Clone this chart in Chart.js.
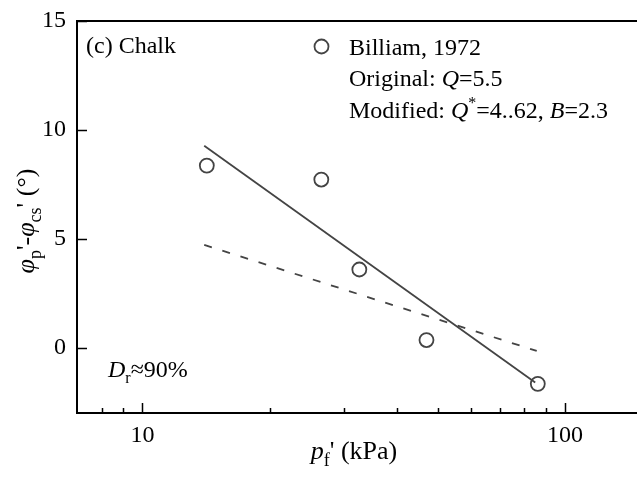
<!DOCTYPE html>
<html>
<head>
<meta charset="utf-8">
<script src="https://cdn.jsdelivr.net/npm/chart.js@4"></script>
<style>
  html, body { margin: 0; padding: 0; background: #fff; }
  canvas { display: block; }
</style>
</head>
<body>
<canvas id="chart" width="637" height="479"></canvas>
<script>
// measured data (Billiam, 1972 - chalk)
const pfValues = [14.2, 26.5, 32.6, 47.0, 86.2];
const dPhiValues = [8.36, 7.72, 3.59, 0.35, -1.66];

// fitted lines (end points)
const modifiedX = [14.0, 85.0];
const modifiedY = [9.27, -1.6];
const originalX = [14.0, 85.7];
const originalY = [4.72, -0.15];

const xTicks = [8, 9, 10, 20, 30, 40, 50, 60, 70, 80, 90, 100];
const xLabelled = [10, 100];
const yTicks = [0, 5, 10, 15];

const FONT = '"Liberation Serif", "Times New Roman", serif';
const GREY = '#444';
const SIZE = 24;
const TITLE_SIZE = 26;

function pts(xs, ys) {
    return xs.map((x, i) => ({ x: x, y: ys[i] }));
}

// draws a row of text pieces: {t, it, sub, sup}
function richText(ctx, x, y, parts, size) {
    let cx = x;
    parts.forEach(p => {
        const s = p.sub || p.sup ? Math.round(size * 0.68) : size;
        ctx.font = (p.it ? 'italic ' : '') + s + 'px ' + FONT;
        const dy = p.sub ? size * 0.25 : p.sup ? -size * 0.4 : 0;
        ctx.fillText(p.t, cx, y + dy);
        cx += ctx.measureText(p.t).width;
    });
    return cx - x;
}

function richWidth(ctx, parts, size) {
    let w = 0;
    parts.forEach(p => {
        const s = p.sub || p.sup ? Math.round(size * 0.68) : size;
        ctx.font = (p.it ? 'italic ' : '') + s + 'px ' + FONT;
        w += ctx.measureText(p.t).width;
    });
    return w;
}

const decorations = {
    id: 'decorations',
    afterDraw(chart) {
        const ctx = chart.ctx;
        const area = chart.chartArea;
        const xs = chart.scales.x, ys = chart.scales.y;
        ctx.save();

        // frame: left, bottom, top
        ctx.strokeStyle = '#000';
        ctx.lineWidth = 2;
        ctx.beginPath();
        ctx.moveTo(chart.width, area.top);
        ctx.lineTo(area.left, area.top);
        ctx.lineTo(area.left, area.bottom);
        ctx.lineTo(chart.width, area.bottom);
        ctx.stroke();

        // inward ticks
        ctx.lineWidth = 1.5;
        ctx.beginPath();
        xTicks.forEach(v => {
            const px = Math.round(xs.getPixelForValue(v)) + 0.5;
            const len = xLabelled.includes(v) ? 10 : 5;
            ctx.moveTo(px, area.bottom);
            ctx.lineTo(px, area.bottom - len);
        });
        yTicks.forEach(v => {
            const py = Math.round(ys.getPixelForValue(v)) + 0.5;
            ctx.moveTo(area.left, py);
            ctx.lineTo(area.left + 10, py);
        });
        ctx.stroke();

        ctx.fillStyle = '#000';
        ctx.textBaseline = 'alphabetic';
        ctx.textAlign = 'left';

        // panel label
        ctx.font = SIZE + 'px ' + FONT;
        ctx.fillText('(c) Chalk', 86, 53);

        // legend
        ctx.strokeStyle = GREY;
        ctx.lineWidth = 1.8;
        ctx.beginPath();
        ctx.arc(321.5, 46.5, 7, 0, Math.PI * 2);
        ctx.stroke();
        ctx.fillStyle = '#000';
        richText(ctx, 349, 55, [{ t: 'Billiam, 1972' }], SIZE);
        richText(ctx, 349, 86, [{ t: 'Original: ' }, { t: 'Q', it: true }, { t: '=5.5' }], SIZE);
        richText(ctx, 349, 118, [{ t: 'Modified: ' }, { t: 'Q', it: true }, { t: '*', sup: true },
            { t: '=4..62, ' }, { t: 'B', it: true }, { t: '=2.3' }], SIZE);

        // density
        richText(ctx, 108, 377, [{ t: 'D', it: true }, { t: 'r', sub: true }, { t: '\u224890%' }], SIZE);

        // x title
        const xParts = [{ t: 'p', it: true }, { t: 'f', sub: true }, { t: "' (kPa)" }];
        const xw = richWidth(ctx, xParts, TITLE_SIZE);
        richText(ctx, 354 - xw / 2, 459, xParts, TITLE_SIZE);

        // y title (rotated)
        const yParts = [{ t: '\u03c6', it: true }, { t: 'p', sub: true }, { t: "'-" },
            { t: '\u03c6', it: true }, { t: 'cs', sub: true }, { t: "' (\u00b0)" }];
        const yw = richWidth(ctx, yParts, TITLE_SIZE);
        ctx.translate(34, 221);
        ctx.rotate(-Math.PI / 2);
        richText(ctx, -yw / 2, 0, yParts, TITLE_SIZE);

        ctx.restore();
    }
};

new Chart(document.getElementById('chart'), {
    type: 'scatter',
    data: {
        datasets: [
            {
                label: 'Billiam, 1972',
                data: pts(pfValues, dPhiValues),
                showLine: false,
                pointRadius: 7,
                pointBorderWidth: 1.8,
                pointBorderColor: GREY,
                pointBackgroundColor: 'rgba(0,0,0,0)'
            },
            {
                label: 'Modified',
                data: pts(modifiedX, modifiedY),
                showLine: true,
                borderColor: GREY,
                borderWidth: 1.8,
                pointRadius: 0
            },
            {
                label: 'Original',
                data: pts(originalX, originalY),
                showLine: true,
                borderColor: GREY,
                borderWidth: 1.8,
                borderDash: [8, 11],
                pointRadius: 0
            }
        ]
    },
    options: {
        responsive: false,
        animation: false,
        devicePixelRatio: 1,
        layout: { autoPadding: false, padding: { top: 21, left: 0, right: 0, bottom: 0 } },
        plugins: {
            legend: { display: false },
            tooltip: { enabled: false }
        },
        scales: {
            x: {
                type: 'logarithmic',
                min: 7,
                max: 148,
                grid: { display: false, drawTicks: false },
                border: { display: false },
                afterBuildTicks: s => { s.ticks = xTicks.map(v => ({ value: v })); },
                afterFit: s => { s.height = 66; s.paddingLeft = 0; s.paddingRight = 0; },
                ticks: {
                    autoSkip: false,
                    maxRotation: 0,
                    padding: 8,
                    color: '#000',
                    font: { family: FONT, size: SIZE },
                    callback: v => xLabelled.includes(v) ? String(v) : ''
                }
            },
            y: {
                min: -3,
                max: 15,
                grid: { display: false, drawTicks: false },
                border: { display: false },
                afterBuildTicks: s => { s.ticks = yTicks.map(v => ({ value: v })); },
                afterFit: s => { s.width = 77; s.paddingTop = 0; s.paddingBottom = 0; },
                ticks: {
                    padding: 11,
                    color: '#000',
                    font: { family: FONT, size: SIZE },
                    callback: v => String(v)
                }
            }
        }
    },
    plugins: [decorations]
});
</script>
</body>
</html>
